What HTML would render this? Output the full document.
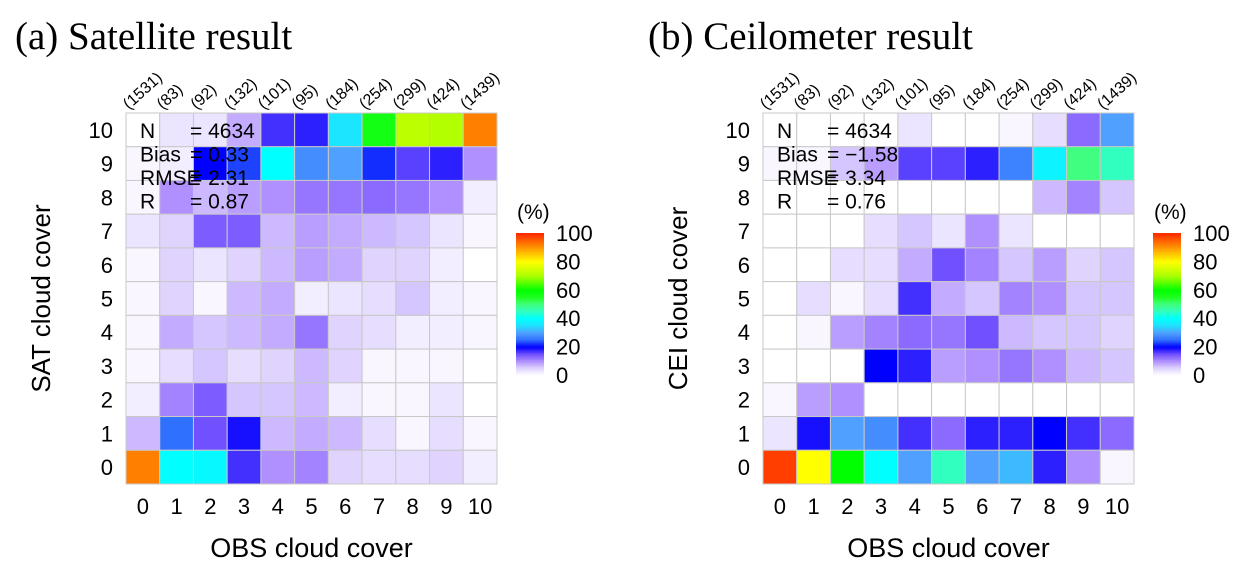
<!DOCTYPE html>
<html><head><meta charset="utf-8"><style>
body{margin:0;background:#fff}
svg{display:block}
</style></head><body>
<svg id="fig" width="1254" height="578" xmlns="http://www.w3.org/2000/svg"></svg>
<script>
const categories=[0,1,2,3,4,5,6,7,8,9,10];
const counts=["(1531)","(83)","(92)","(132)","(101)","(95)","(184)","(254)","(299)","(424)","(1439)"];
const cbTicks=[0,20,40,60,80,100];
// rows listed from y=10 (top) down to y=0
const satValues=[
[0,3,3,8,17,18,36,57,72,71,92],
[1,2,20,23,40,28,30,22,16,18,10],
[1,10,7,9,10,12,12,13,12,10,2],
[3,5,14,14,7,9,8,7,6,3,1],
[1,5,3,5,7,9,8,5,5,2,0],
[1,5,1,7,8,2,3,4,6,2,1],
[1,8,6,7,8,12,5,4,2,2,1],
[1,4,6,4,5,7,5,1,1,1,0],
[2,11,14,6,6,7,2,1,1,3,0],
[7,25,15,19,7,8,7,4,1,4,1],
[92,40,39,17,10,11,5,4,4,5,2]];
const ceiValues=[
[0,0,0,0,3,0,0,1,4,13,30],
[1,1,6,9,16,16,18,27,38,50,45],
[0,0,0,0,0,0,0,0,7,11,6],
[0,0,0,4,6,3,10,3,0,0,0],
[0,0,4,4,8,15,11,6,9,5,6],
[0,4,1,4,17,8,6,11,10,6,6],
[0,1,9,11,13,12,15,7,6,6,5],
[0,0,0,20,18,9,10,12,10,7,6],
[1,9,10,0,0,0,0,0,0,0,0],
[3,19,30,28,17,13,18,18,20,17,13],
[98,80,60,40,30,45,30,32,18,10,1]];
const satStats=[["N","= 4634"],["Bias","= 0.33"],["RMSE","= 2.31"],["R","= 0.87"]];
const ceiStats=[["N","= 4634"],["Bias","= \u22121.58"],["RMSE","= 3.34"],["R","= 0.76"]];

const stops=[[0,[255,255,255]],[5,[224,212,255]],[10,[176,144,255]],[15,[112,80,255]],[20,[0,0,255]],[25,[48,112,255]],[30,[80,160,255]],[35,[32,224,255]],[40,[0,255,255]],[45,[48,255,192]],[50,[64,255,128]],[55,[32,255,32]],[60,[0,255,0]],[70,[170,255,0]],[80,[255,255,0]],[90,[255,150,0]],[100,[255,40,0]]];
function color(v){
  for(let i=1;i<stops.length;i++){
    if(v<=stops[i][0]){const a=stops[i-1],b=stops[i];const t=(v-a[0])/(b[0]-a[0]);
      const c=a[1].map((x,k)=>Math.round(x+(b[1][k]-x)*t));return `rgb(${c})`;}
  }
  return 'rgb(255,40,0)';
}
const NS="http://www.w3.org/2000/svg";
const svg=document.getElementById('fig');
function el(tag,attrs,parent,text){const e=document.createElementNS(NS,tag);for(const k in attrs)e.setAttribute(k,attrs[k]);if(text!==undefined)e.textContent=text;(parent||svg).appendChild(e);return e;}
const cell=(497-126)/11;
function panel(x0,titleX,title,ylabel,vals,stats,pid){
  const y0=113;
  const g=el('g',{});
  
  
  const xs=c=>x0+c*cell, ys=r=>y0+(10-r)*cell;
  const t=el('text',{x:titleX,y:49,'font-family':'Liberation Serif, serif','font-size':39},g,title);
  
  vals.forEach((row,i)=>{const r=10-i;row.forEach((v,c)=>{
    const rc=el('rect',{x:xs(c),y:ys(r),width:cell,height:cell,fill:color(v),stroke:'#c8c8c8','stroke-width':1},g);
    
    
  });});
  categories.forEach(c=>{
    const tx=el('text',{x:xs(c)+cell/2,y:514,'font-family':'Liberation Sans, sans-serif','font-size':22,'text-anchor':'middle'},g,c);
    
    const ty=el('text',{x:x0-13,y:ys(c)+cell/2+8,'font-family':'Liberation Sans, sans-serif','font-size':22,'text-anchor':'end'},g,c);
    
    const cx=xs(c)+cell/2-14, cy=110;
    const ct=el('text',{x:cx,y:cy,'font-family':'Liberation Sans, sans-serif','font-size':16,transform:`rotate(-42 ${cx} ${cy})`},g,counts[c]);
    
  });
  const xt=el('text',{x:x0+cell*5.5,y:557,'font-family':'Liberation Sans, sans-serif','font-size':27,'text-anchor':'middle'},g,'OBS cloud cover');
  
  const yt=el('text',{x:0,y:0,'font-family':'Liberation Sans, sans-serif','font-size':26,'text-anchor':'middle',transform:`translate(${x0-76},${y0+cell*5.5}) rotate(-90)`},g,ylabel);
  
  stats.forEach((s,i)=>{
    const y=138+i*23.5;
    const a=el('text',{x:x0+14,y:y,'font-family':'Liberation Sans, sans-serif','font-size':21},g,s[0]);
    
    const b=el('text',{x:x0+64,y:y,'font-family':'Liberation Sans, sans-serif','font-size':21},g,s[1]);
    
  });
  const cbx=x0+cell*11+19, cbTop=233, cbBot=375;
  for(let v=0;v<100;v+=1){
    const yy=cbBot-(v+1)/100*(cbBot-cbTop);
    const s=el('rect',{x:cbx,y:yy,width:28,height:(cbBot-cbTop)/100+0.6,fill:color(v+0.5)},g);
    
  }
  cbTicks.forEach(v=>{
    const tt=el('text',{x:cbx+40,y:cbBot-v/100*(cbBot-cbTop)+8,'font-family':'Liberation Sans, sans-serif','font-size':22},g,v);
    
  });
  const u=el('text',{x:cbx+1,y:219,'font-family':'Liberation Sans, sans-serif','font-size':21},g,'(%)');
  
}
panel(126,15,'(a) Satellite result','SAT cloud cover',satValues,satStats,'sat');
panel(763,648,'(b) Ceilometer result','CEI cloud cover',ceiValues,ceiStats,'cei');
</script>
</body></html>
